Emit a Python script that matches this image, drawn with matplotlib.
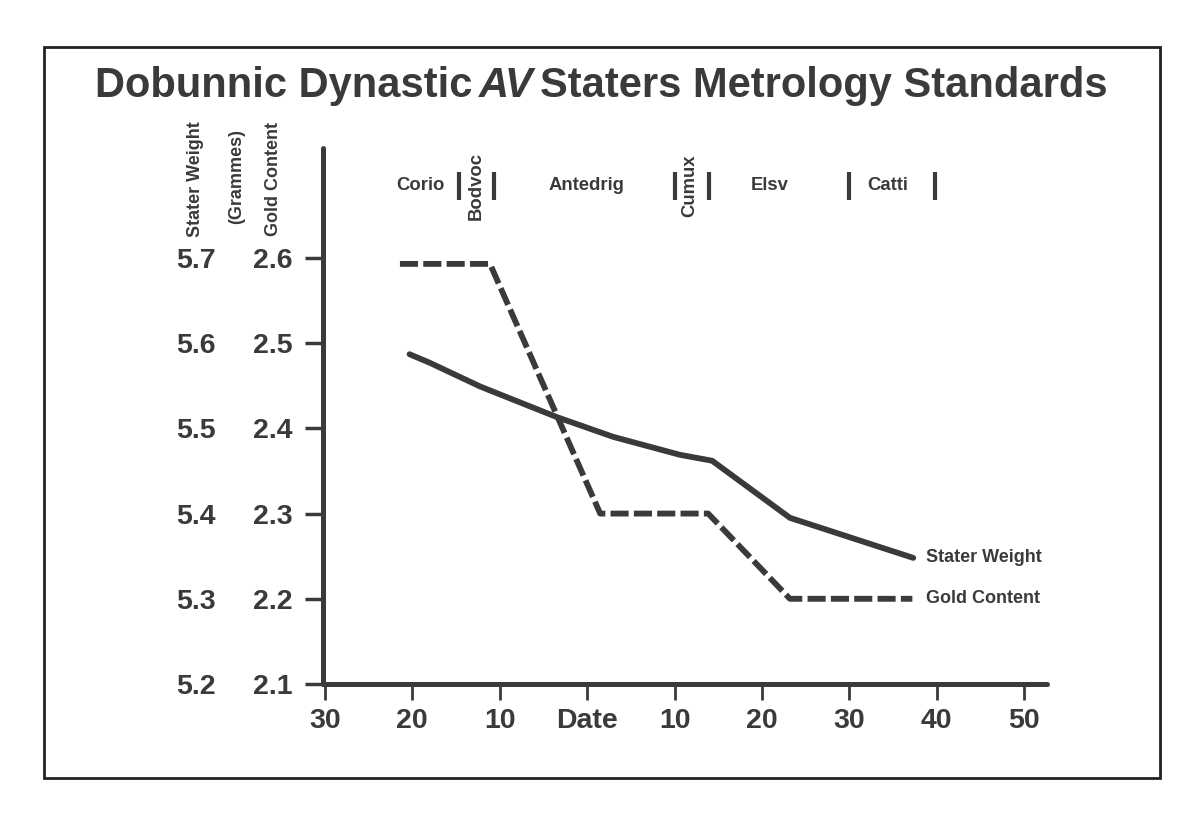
import matplotlib.pyplot as plt
from matplotlib.patches import Rectangle

plt.rcParams['font.family'] = ['Liberation Sans', 'DejaVu Sans']
plt.rcParams['font.weight'] = 'bold'

ink = '#3a3a3a'

# years (negative = BC, positive = AD)
weight_years = [-20.3, -18.0, -12.2, -3.4, 3.0, 10.6, 14.3, 23.2, 37.3]
stater_weight = [5.587, 5.577, 5.549, 5.513, 5.490, 5.469, 5.462, 5.395, 5.348]

gold_years = [-21.4, -11.1, 1.5, 13.85, 23.2, 37.2]
gold_content = [2.593, 2.593, 2.30, 2.30, 2.20, 2.20]

x_ticks = [-30, -20, -10, 0, 10, 20, 30, 40, 50]
x_tick_labels = ['30', '20', '10', 'Date', '10', '20', '30', '40', '50']
gold_ticks = [2.1, 2.2, 2.3, 2.4, 2.5, 2.6]
weight_ticks = [5.2, 5.3, 5.4, 5.5, 5.6, 5.7]

# rulers along the top
rulers = ['Corio', 'Bodvoc', 'Antedrig', 'Cumux', 'Elsv', 'Catti']
ruler_pos = [-19.1, -12.7, -0.1, 11.8, 20.9, 34.4]
ruler_vertical = [False, True, False, True, False, False]
divider_pos = [-14.6, -10.6, 10.1, 14.0, 30.0, 39.8]

fig = plt.figure(figsize=(12, 8.34), dpi=100)
ax = fig.add_axes([323 / 1200, 150 / 834, (1047 - 323) / 1200, (684 - 148) / 834])
ax.set_xlim(-30.2, 52.6)
ax.set_ylim(2.1, 2.729)

ax2 = ax.twinx()
ax2.set_ylim(5.2, 5.829)

ax.plot(gold_years, gold_content, color=ink, lw=4.2, dashes=(3.1, 0.9),
        solid_joinstyle='round', dash_capstyle='butt')
ax2.plot(weight_years, stater_weight, color=ink, lw=4.2,
         solid_capstyle='round', solid_joinstyle='round')

for s in ['top', 'right']:
    ax.spines[s].set_visible(False)
for s in ax2.spines.values():
    s.set_visible(False)
for s in ['left', 'bottom']:
    ax.spines[s].set_linewidth(3.6)
    ax.spines[s].set_color(ink)
    ax.spines[s].set_capstyle('round')

ax.set_xticks(x_ticks)
ax.set_xticklabels(x_tick_labels)
ax.set_yticks(gold_ticks)
ax.set_yticklabels([f'{v:.1f}' for v in gold_ticks])
ax.tick_params(axis='x', direction='out', length=11.5, width=2, color=ink,
               labelsize=20.5, labelcolor=ink, pad=6)
ax.tick_params(axis='y', direction='out', length=13, width=2.5, color=ink,
               labelsize=20.5, labelcolor=ink, pad=9)

ax2.yaxis.set_ticks_position('left')
ax2.yaxis.set_label_position('left')
ax2.set_yticks(weight_ticks)
ax2.set_yticklabels([f'{v:.1f}' for v in weight_ticks])
ax2.tick_params(axis='y', length=0, labelsize=20.5, labelcolor=ink, pad=77,
                left=True, right=False, labelleft=True, labelright=False)

# end-of-line labels
ax2.text(38.8, stater_weight[-1], 'Stater Weight', fontsize=13, color=ink,
         ha='left', va='center')
ax.text(38.8, gold_content[-1], 'Gold Content', fontsize=13, color=ink,
        ha='left', va='center')

# ruler names and dividers
for name, xp, vert in zip(rulers, ruler_pos, ruler_vertical):
    ax.text(xp, 2.6845, name, fontsize=13.3, color=ink, ha='center', va='center',
            rotation=90 if vert else 0)
for xp in divider_pos:
    ax.plot([xp, xp], [2.668, 2.701], color=ink, lw=3, solid_capstyle='butt')

# axis captions
fig.text(196 / 1200, 1 - 179 / 834, 'Stater Weight', rotation=90, fontsize=13,
         color=ink, ha='center', va='center')
fig.text(237 / 1200, 1 - 177 / 834, '(Grammes)', rotation=90, fontsize=13,
         color=ink, ha='center', va='center')
fig.text(273 / 1200, 1 - 179 / 834, 'Gold Content', rotation=90, fontsize=13,
         color=ink, ha='center', va='center')

# title
ty = 1 - 86 / 834
fig.text(472 / 1200, ty, 'Dobunnic Dynastic', fontsize=30, color=ink,
         ha='right', va='center')
fig.text(506 / 1200, ty, 'AV', fontsize=30, color=ink, style='italic',
         ha='center', va='center')
fig.text(540 / 1200, ty, 'Staters Metrology Standards', fontsize=30, color=ink,
         ha='left', va='center')

# frame
fig.patches.append(Rectangle((44 / 1200, 1 - 778 / 834), (1160 - 44) / 1200,
                             (778 - 47) / 834, transform=fig.transFigure,
                             fill=False, lw=2, edgecolor='#222222'))

fig.savefig('out.png', dpi=100, facecolor='white')
